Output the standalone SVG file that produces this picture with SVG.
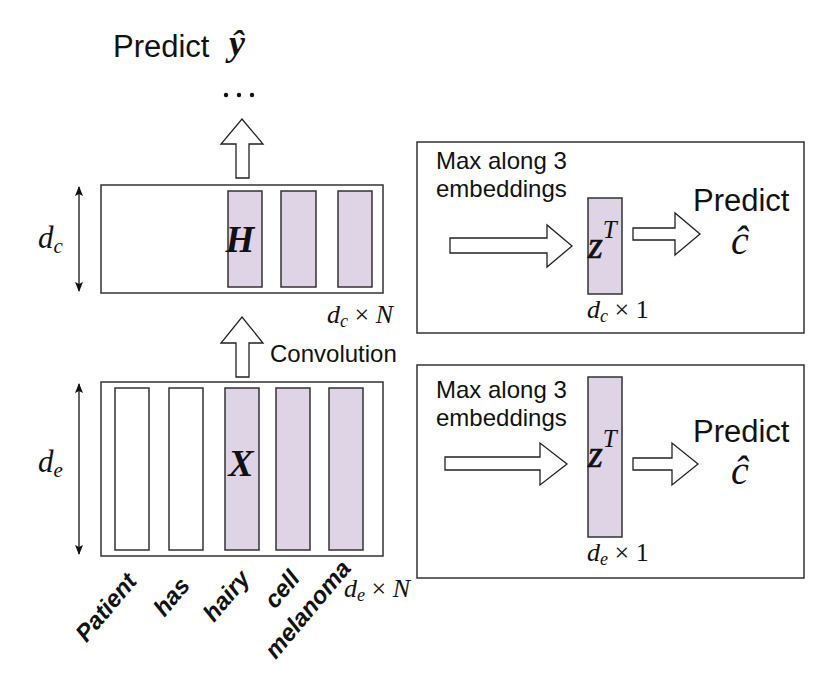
<svg xmlns="http://www.w3.org/2000/svg" width="830" height="675" viewBox="0 0 830 675">
<style>
.box{fill:#fff;stroke:#333;stroke-width:1.5}
.bar{fill:#fff;stroke:#333;stroke-width:1.5}
.pur{fill:#dfd3e6;stroke:#333;stroke-width:1.5}
.blk{fill:#fff;stroke:#222;stroke-width:1.3}
.sans{font-family:"Liberation Sans",Arial,sans-serif;fill:#111}
.math{font-family:"Liberation Serif","Times New Roman",serif;font-style:italic;fill:#111}
.mr{font-family:"Liberation Serif","Times New Roman",serif;font-style:normal;fill:#111}
.bi{font-family:"Liberation Serif","Times New Roman",serif;font-style:italic;font-weight:bold;fill:#111}
.word{font-family:"Liberation Sans",Arial,sans-serif;font-style:italic;font-weight:bold;font-size:24px;fill:#111}
.dim{stroke:#111;stroke-width:1.3;fill:none}
.zt{stroke:#111;stroke-width:0.7}
</style>
<defs>
<marker id="ah" viewBox="0 0 10 10" refX="9" refY="5" markerWidth="10" markerHeight="10" markerUnits="userSpaceOnUse" orient="auto-start-reverse">
<path d="M0,1 L10,5 L0,9 L2,5 Z" fill="#111"/>
</marker>
</defs>
<rect width="830" height="675" fill="#fff"/>

<g id="top-output">
<text class="sans" x="113" y="57" font-size="31">Predict</text>
<text class="bi" x="229" y="55" font-size="36">ŷ</text>
<circle cx="226" cy="95" r="2.2" fill="#111"/>
<circle cx="239" cy="95" r="2.2" fill="#111"/>
<circle cx="252" cy="95" r="2.2" fill="#111"/>
</g>

<g id="H-matrix">
<rect class="box" x="101" y="185" width="282" height="108"/>
<rect class="pur" x="228" y="191" width="34" height="96"/>
<rect class="pur" x="281" y="191" width="35" height="96"/>
<rect class="pur" x="338" y="191" width="34" height="96"/>
<text class="bi" x="240" y="252" font-size="37" text-anchor="middle">H</text>
<text class="math" x="38" y="248" font-size="31">d<tspan font-size="21" dy="5">c</tspan></text>
<text class="math" x="327" y="323" font-size="26">d<tspan font-size="18" dy="4">c</tspan><tspan class="mr" dy="-4" font-size="26"> × </tspan>N</text>
</g>

<g id="X-matrix">
<rect class="box" x="101" y="382" width="282" height="174"/>
<rect class="bar" x="115" y="388" width="34" height="162"/>
<rect class="bar" x="169" y="388" width="34" height="162"/>
<rect class="pur" x="225" y="388" width="34" height="162"/>
<rect class="pur" x="276" y="388" width="34" height="162"/>
<rect class="pur" x="329" y="388" width="34" height="162"/>
<text class="bi" x="241" y="476" font-size="38" text-anchor="middle">X</text>
<text class="math" x="38" y="472" font-size="31">d<tspan font-size="21" dy="5">e</tspan></text>
<text class="math" x="344" y="597" font-size="26">d<tspan font-size="18" dy="4">e</tspan><tspan class="mr" dy="-4" font-size="26"> × </tspan>N</text>
</g>

<g id="words">
<text class="word" text-anchor="end" transform="translate(138,582) rotate(-50)">Patient</text>
<text class="word" text-anchor="end" transform="translate(191,586) rotate(-50)">has</text>
<text class="word" text-anchor="end" transform="translate(251,579) rotate(-50)">hairy</text>
<text class="word" text-anchor="end" transform="translate(301,579) rotate(-50)">cell</text>
<text class="word" text-anchor="end" transform="translate(352,569) rotate(-50)">melanoma</text>
</g>

<g id="box-c">
<rect class="box" x="417" y="142" width="387" height="191"/>
<text class="sans" x="436" y="169" font-size="24">Max along 3</text>
<text class="sans" x="436" y="197" font-size="24">embeddings</text>
<rect class="pur" x="588" y="198" width="34" height="96"/>
<text class="math" x="588" y="258" font-size="38"><tspan class="zt">z</tspan><tspan font-size="25" dy="-20">T</tspan></text>
<text class="math" x="587" y="318" font-size="26">d<tspan font-size="18" dy="4">c</tspan><tspan class="mr" dy="-4" font-size="26"> × 1</tspan></text>
<text class="sans" x="693" y="211" font-size="31">Predict</text>
<text class="math" x="740" y="254" font-size="40" text-anchor="middle">ĉ</text>
</g>

<g id="box-e">
<rect class="box" x="417" y="365" width="387" height="213"/>
<text class="sans" x="436" y="398" font-size="24">Max along 3</text>
<text class="sans" x="436" y="426" font-size="24">embeddings</text>
<rect class="pur" x="588" y="377" width="34" height="160"/>
<text class="math" x="588" y="467" font-size="38"><tspan class="zt">z</tspan><tspan font-size="25" dy="-20">T</tspan></text>
<text class="math" x="587" y="561" font-size="26">d<tspan font-size="18" dy="4">e</tspan><tspan class="mr" dy="-4" font-size="26"> × 1</tspan></text>
<text class="sans" x="693" y="442" font-size="31">Predict</text>
<text class="math" x="740" y="484" font-size="40" text-anchor="middle">ĉ</text>
</g>

<g id="connectors">
<path class="blk" d="M236,178 L236,144 L221,144 L242,119 L263,144 L249,144 L249,178 Z"/>
<path class="blk" d="M236,377 L236,343 L221,343 L242,317 L263,343 L249,343 L249,377 Z"/>
<text class="sans" x="270" y="362" font-size="24">Convolution</text>
<path class="blk" d="M450,238 L547,238 L547,225 L572,246 L547,267 L547,253 L450,253 Z"/>
<path class="blk" d="M633,228 L675,228 L675,213 L700,234 L675,255 L675,240 L633,240 Z"/>
<path class="blk" d="M445,457 L540,457 L540,443 L567,464 L540,485 L540,470 L445,470 Z"/>
<path class="blk" d="M633,458 L672,458 L672,443 L698,464 L672,485 L672,470 L633,470 Z"/>
<line class="dim" x1="79" y1="187" x2="79" y2="291" marker-start="url(#ah)" marker-end="url(#ah)"/>
<line class="dim" x1="79" y1="384" x2="79" y2="554" marker-start="url(#ah)" marker-end="url(#ah)"/>
</g>
</svg>
